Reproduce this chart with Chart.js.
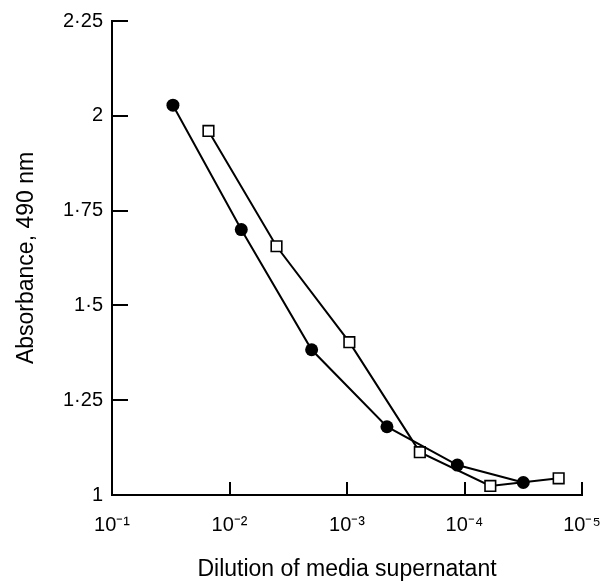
<!DOCTYPE html>
<html>
<head>
<meta charset="utf-8">
<script src="https://cdn.jsdelivr.net/npm/chart.js@4.4.1/dist/chart.umd.min.js"></script>
<style>
  html, body { margin: 0; padding: 0; background: #fff; }
  #wrap { width: 613px; height: 583px; }
</style>
</head>
<body>
<div id="wrap"><canvas id="c" width="613" height="583"></canvas></div>
<script>
// ---- data ----
const circleDilution = [0.0303, 0.00794, 0.00200, 0.000457, 0.000115, 0.0000316];
const circleAbsorbance = [2.028, 1.70, 1.383, 1.18, 1.079, 1.033];

const squareDilution = [0.0151, 0.00398, 0.000955, 0.000240, 0.0000603, 0.0000158];
const squareAbsorbance = [1.96, 1.656, 1.403, 1.113, 1.024, 1.044];

const xTickValues = [1e-1, 1e-2, 1e-3, 1e-4, 1e-5];
const xTickLabels = ['10\u207B\u00B9', '10\u207B\u00B2', '10\u207B\u00B3', '10\u207B\u2074', '10\u207B\u2075'];
const yTickValues = [1, 1.25, 1.5, 1.75, 2, 2.25];
const yTickLabels = ['1', '1\u00B725', '1\u00B75', '1\u00B775', '2', '2\u00B725'];

const xTitle = 'Dilution of media supernatant';
const yTitle = 'Absorbance, 490 nm';

const FONT = "'Liberation Sans', Arial, Helvetica, sans-serif";

function toPoints(xs, ys) { return xs.map((x, i) => ({ x: x, y: ys[i] })); }

// inward tick marks drawn from the scales' own pixel mapping
const inwardTicks = {
  id: 'inwardTicks',
  afterDatasetsDraw(chart) {
    const ctx = chart.ctx;
    const xs = chart.scales.x, ys = chart.scales.y;
    const area = chart.chartArea;
    ctx.save();
    ctx.strokeStyle = '#000';
    ctx.lineWidth = 2;
    ctx.beginPath();
    yTickValues.forEach(v => {
      const py = Math.round(ys.getPixelForValue(v));
      ctx.moveTo(area.left, py);
      ctx.lineTo(area.left + 16, py);
    });
    xTickValues.forEach(v => {
      const px = Math.round(xs.getPixelForValue(v));
      ctx.moveTo(px, area.bottom);
      ctx.lineTo(px, area.bottom - 13);
    });
    ctx.stroke();
    ctx.restore();
  }
};

new Chart(document.getElementById('c'), {
  type: 'scatter',
  data: {
    datasets: [
      {
        label: 'filled circles',
        data: toPoints(circleDilution, circleAbsorbance),
        showLine: true,
        borderColor: '#000',
        backgroundColor: '#000',
        borderWidth: 2,
        pointStyle: 'circle',
        pointRadius: 6.5,
        pointBackgroundColor: '#000',
        pointBorderColor: '#000',
        pointBorderWidth: 0,
        tension: 0
      },
      {
        label: 'open squares',
        data: toPoints(squareDilution, squareAbsorbance),
        showLine: true,
        borderColor: '#000',
        backgroundColor: '#fff',
        borderWidth: 2,
        pointStyle: 'rect',
        pointRadius: 7.5,
        pointBackgroundColor: '#fff',
        pointBorderColor: '#000',
        pointBorderWidth: 1.6,
        tension: 0
      }
    ]
  },
  options: {
    responsive: false,
    animation: false,
    events: [],
    layout: { padding: { top: 20, right: 31, left: 0, bottom: 0 } },
    plugins: {
      legend: { display: false },
      tooltip: { enabled: false }
    },
    scales: {
      x: {
        type: 'logarithmic',
        reverse: true,
        min: 1e-5,
        max: 1e-1,
        afterBuildTicks(scale) {
          scale.ticks = xTickValues.map(v => ({ value: v }));
        },
        afterFit(scale) {
          scale.height = 88;
          scale.paddingLeft = 0;
          scale.paddingRight = 0;
        },
        grid: { display: false, drawTicks: false },
        border: { display: true, color: '#000', width: 2 },
        ticks: {
          color: '#000',
          font: { family: FONT, size: 20 },
          padding: 18,
          maxRotation: 0,
          autoSkip: false,
          callback(value) {
            const i = xTickValues.findIndex(v => Math.abs(Math.log10(v) - Math.log10(value)) < 1e-6);
            return i >= 0 ? xTickLabels[i] : '';
          }
        },
        title: {
          display: true,
          text: xTitle,
          color: '#000',
          font: { family: FONT, size: 23 },
          padding: { top: 0, bottom: 0 }
        }
      },
      y: {
        type: 'linear',
        min: 1,
        max: 2.25,
        afterBuildTicks(scale) {
          scale.ticks = yTickValues.map(v => ({ value: v }));
        },
        afterFit(scale) { scale.width = 112; },
        grid: { display: false, drawTicks: false },
        border: { display: true, color: '#000', width: 2 },
        ticks: {
          color: '#000',
          font: { family: FONT, size: 20 },
          padding: 9,
          autoSkip: false,
          callback(value) {
            const i = yTickValues.findIndex(v => Math.abs(v - value) < 1e-9);
            return i >= 0 ? yTickLabels[i] : '';
          }
        },
        title: {
          display: true,
          text: yTitle,
          color: '#000',
          font: { family: FONT, size: 23 },
          padding: { top: 13, bottom: 0 }
        }
      }
    }
  },
  plugins: [inwardTicks]
});
</script>
</body>
</html>
